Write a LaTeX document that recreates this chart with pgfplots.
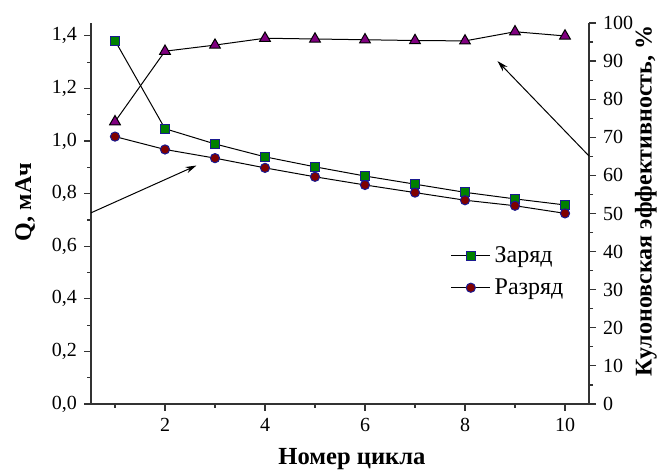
\documentclass[border=0pt]{standalone}
\usepackage{fontspec}
\setmainfont{Liberation Serif}
\usepackage{pgfplots}
\pgfplotsset{compat=1.18}
\usetikzlibrary{arrows.meta}
\definecolor{sqgreen}{HTML}{008000}
\definecolor{cirred}{HTML}{800000}
\definecolor{tripurp}{HTML}{800080}
\definecolor{edgeblue}{HTML}{1A1A90}
\definecolor{axgray}{HTML}{333333}
\begin{document}
\begin{tikzpicture}
\useasboundingbox (0,0) rectangle (329pt,235pt);
\begin{axis}[
  at={(45.5pt,33pt)}, anchor=south west,
  scale only axis, width=249pt, height=190.5pt,
  xmin=0.52, xmax=10.48, ymin=0, ymax=1.449,
  axis x line*=bottom, axis y line*=left,
  axis line style={-, line width=0.6pt, color=axgray},
  xtick={2,4,6,8,10}, minor xtick={1,3,5,7,9},
  ytick={0,0.2,0.4,0.6,0.8,1.0,1.2,1.4},
  minor ytick={0.1,0.3,0.5,0.7,0.9,1.1,1.3},
  tick align=outside, major tick length=3.5pt, minor tick length=2pt,
  tick style={line width=0.6pt, color=axgray},
  /pgf/number format/assume math mode=true,
  yticklabel style={/pgf/number format/.cd, fixed, fixed zerofill, precision=1, use comma},
  tick label style={font=\fontsize{10}{12}\selectfont},
  ylabel={Q, мАч},
  ylabel style={at={(axis description cs:-0.1325,0.53)}, anchor=center, font=\fontsize{12}{14}\selectfont\bfseries},
  xlabel={Номер цикла},
  xlabel style={at={(axis description cs:0.524,-0.16)}, anchor=base, font=\fontsize{12.3}{14}\selectfont\bfseries},
  legend style={at={(axis description cs:0.722,0.425)}, anchor=north west, draw=none, fill=none,
    font=\fontsize{12}{14}\selectfont, row sep=2.5pt, inner sep=0pt},
  legend image code/.code={\draw[#1, mark repeat=2, mark phase=2] plot coordinates {(0cm,0cm) (0.34cm,0cm) (0.68cm,0cm)};},
  legend cell align=left,
  clip=false,
]
\addplot[black, line width=0.5pt, mark=square*, mark size=2.2pt,
  mark options={fill=sqgreen, draw=edgeblue, line width=0.5pt}]
  coordinates {(1,1.382) (2,1.047) (3,0.989) (4,0.940) (5,0.902) (6,0.867) (7,0.836) (8,0.805) (9,0.780) (10,0.757)};
\addlegendentry{Заряд}
\addplot[black, line width=0.5pt, mark=*, mark size=2.3pt,
  mark options={fill=cirred, draw=edgeblue, line width=0.5pt}]
  coordinates {(1,1.017) (2,0.968) (3,0.935) (4,0.898) (5,0.864) (6,0.833) (7,0.804) (8,0.775) (9,0.754) (10,0.725)};
\addlegendentry{Разряд}
\draw[-{Stealth[length=5.5pt,width=3.2pt]}, line width=0.5pt, black] (axis cs:0.52,0.727) -- (axis cs:2.63,0.907);
\end{axis}
\begin{axis}[
  at={(45.5pt,33pt)}, anchor=south west,
  scale only axis, width=249pt, height=190.5pt,
  xmin=0.52, xmax=10.48, ymin=0, ymax=100,
  axis x line=none, axis y line*=right,
  axis line style={-, line width=0.6pt, color=axgray},
  ytick={0,10,20,30,40,50,60,70,80,90,100},
  minor ytick={5,15,25,35,45,55,65,75,85,95},
  tick align=outside, major tick length=3.5pt, minor tick length=2pt,
  tick style={line width=0.6pt, color=axgray},
  /pgf/number format/assume math mode=true,
  tick label style={font=\fontsize{10}{12}\selectfont},
  ylabel={Кулоновская эффективность, \%},
  ylabel style={at={(axis description cs:1.114,0.533)}, anchor=center, font=\fontsize{12}{14}\selectfont\bfseries},
  clip=false,
]
\addplot[black, line width=0.5pt, mark=triangle*, mark size=3.1pt,
  mark options={fill=tripurp, draw=black, line width=0.5pt}]
  coordinates {(1,74.1) (2,92.6) (3,94.2) (4,96.0) (5,95.8) (6,95.6) (7,95.4) (8,95.3) (9,97.7) (10,96.6)};
\draw[-{Stealth[length=5.5pt,width=3.2pt]}, line width=0.5pt, black] (axis cs:10.48,65.1) -- (axis cs:8.65,90.0);
\end{axis}
\end{tikzpicture}
\end{document}
